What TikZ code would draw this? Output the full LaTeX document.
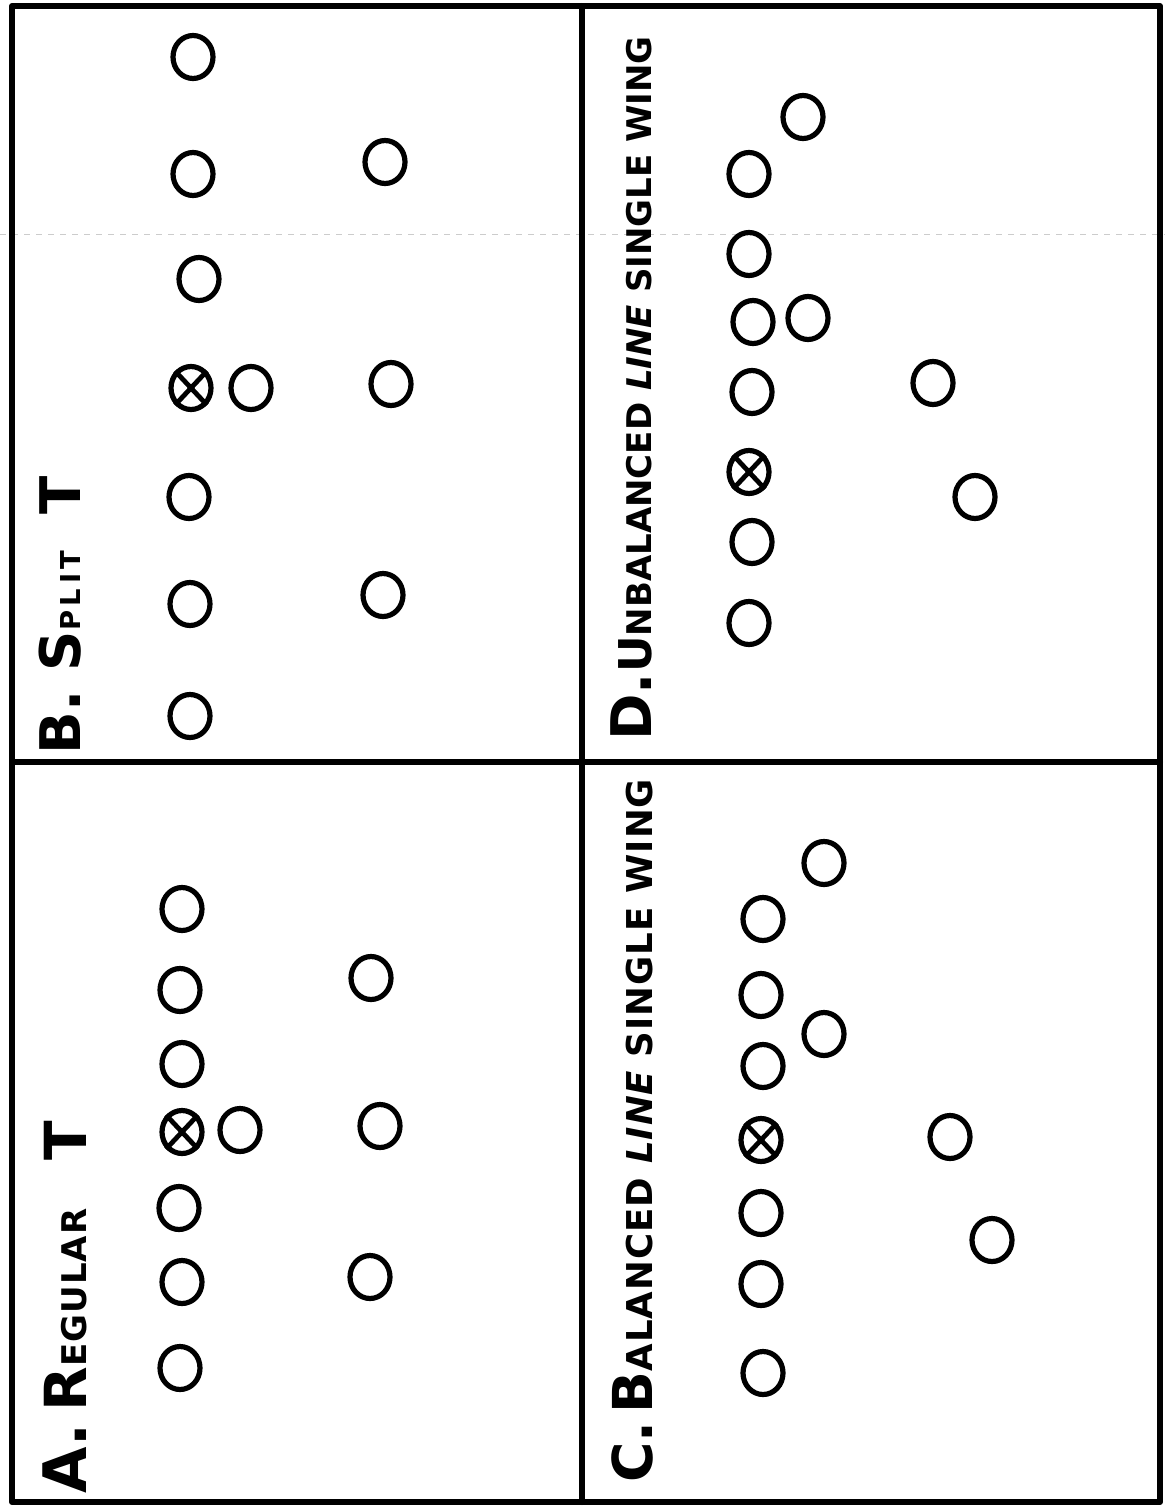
\documentclass[tikz,border=0pt]{standalone}
\usepackage{fontspec}
\setmainfont{DejaVu Sans}
\usetikzlibrary{shapes.geometric}
\tikzset{
  player/.style={draw, ellipse, line width=2.6pt, minimum width=20pt, minimum height=21.5pt, inner sep=0pt},
  centre/.style={player},
  crossline/.style={line width=2.4pt},
  frameline/.style={line width=3pt, line cap=round, line join=round},
  title/.style={rotate=90, anchor=base west, inner sep=0pt, font=\bfseries},
  fold/.style={gray!40, line width=0.5pt, dashed}
}
\newcommand\fs[1]{\fontsize{#1}{#1}\selectfont}
\begin{document}
\begin{tikzpicture}[x=0.5pt,y=0.5pt]
\useasboundingbox (0,0) rectangle (1165,-1509);
% frame
\coordinate (tl) at (12,-6);
\coordinate (tr) at (1160,-6);
\coordinate (bl) at (12,-1502);
\coordinate (br) at (1160,-1502);
\coordinate (mt) at (582,-6);
\coordinate (mb) at (582,-1502);
\coordinate (ml) at (12,-762);
\coordinate (mr) at (1160,-762);
\coordinate (fl) at (0,-234);
\coordinate (fr) at (1165,-234);
\draw[fold] (fl) -- (fr);
\draw[frameline] (tl) rectangle (br);
\draw[frameline] (mt) -- (mb);
\draw[frameline] (ml) -- (mr);

% titles
\node[title] (tA) at (86,-1494) {{\fs{30}A.}\hspace{6pt}{\fs{29}R}{\fs{17}\addfontfeature{LetterSpace=3}EGULAR}\hspace{24pt}{\fs{29}T}};
\node[title] (tB) at (80,-755) {\fs{28}B. S{\fs{13.7}\addfontfeature{LetterSpace=17}PLIT}\hspace{18pt}T};
\node[title] (tC) at (652,-1483) {\fs{27.5}C.\hspace{4pt}B{\fs{17.8}\addfontfeature{LetterSpace=3}ALANCED {\itshape LINE} SINGLE WING}};
\node[title] (tD) at (651,-741) {\fs{28}D.{\fs{22.6}U}{\fs{17}NBALANCED {\itshape LINE} SINGLE WING}};

% panel B: split T
\foreach \n/\x/\y in {b1/193/57, b2/193/174, b3/199/279, b5/189/497, b6/190/604, b7/190/716,
                      bq/251/388, bl1/385/162, bf/391/384, br1/383/595}
  \node[player] (\n) at (\x,-\y) {};
\node[centre] (bc) at (191,-388) {};
\draw[crossline] (bc.north east) -- (bc.south west) (bc.north west) -- (bc.south east);

% panel D: unbalanced line single wing
\foreach \n/\x/\y in {dw/803/117, d1/749/174, d2/749/254, d3/753/322, db/808/318, d4/752/392,
                      d6/752/542, d7/749/623, dt/933/383, df/975/497}
  \node[player] (\n) at (\x,-\y) {};
\node[centre] (dc) at (749,-472) {};
\draw[crossline] (dc.north east) -- (dc.south west) (dc.north west) -- (dc.south east);

% panel A: regular T
\foreach \n/\x/\y in {a1/182/909, a2/180/990, a3/182/1064, aq/240/1130, a5/179/1208, a6/182/1282, a7/180/1368,
                      ah1/371/978, af/380/1126, ah2/370/1277}
  \node[player] (\n) at (\x,-\y) {};
\node[centre] (ac) at (182,-1132) {};
\draw[crossline] (ac.north east) -- (ac.south west) (ac.north west) -- (ac.south east);

% panel C: balanced line single wing
\foreach \n/\x/\y in {cw/824/863, c1/763/919, c2/761/995, cb/824/1034, c3/763/1066,
                      c5/761/1213, c6/761/1284, c7/763/1373, ct/950/1137, cf/992/1240}
  \node[player] (\n) at (\x,-\y) {};
\node[centre] (cc) at (761,-1140) {};
\draw[crossline] (cc.north east) -- (cc.south west) (cc.north west) -- (cc.south east);
\end{tikzpicture}
\end{document}
